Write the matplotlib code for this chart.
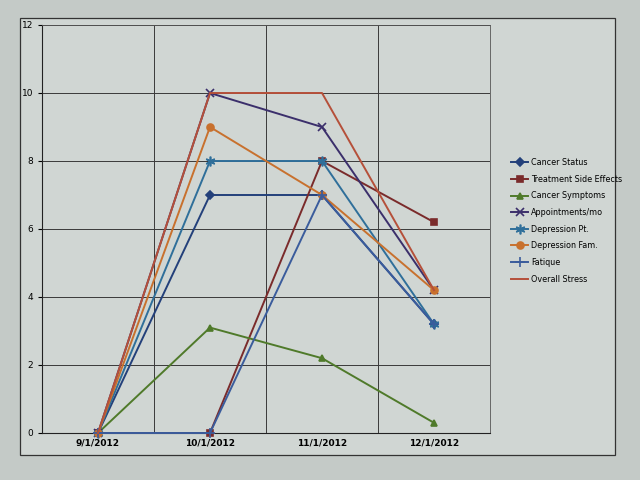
import numpy as np
import matplotlib
matplotlib.use('Agg')
import matplotlib.pyplot as plt
from matplotlib.patches import Rectangle

dates = ['9/1/2012', '10/1/2012', '11/1/2012', '12/1/2012']
cancer_status = [0, 7, 7, 3.2]
treatment_side_effects = [0, 0, 8, 6.2]
cancer_symptoms = [0, 3.1, 2.2, 0.3]
appointments = [0, 10, 9, 4.2]
depression_pt = [0, 8, 8, 3.2]
depression_fam = [0, 9, 7, 4.2]
fatigue = [0, 0, 7, 3.2]
overall_stress = [0, 10, 10, 4.2]

series = [
    ('Cancer Status', cancer_status, '#23407a', 'D', 4),
    ('Treatment Side Effects', treatment_side_effects, '#7a2b2b', 's', 5),
    ('Cancer Symptoms', cancer_symptoms, '#4f7a2a', '^', 5),
    ('Appointments/mo', appointments, '#3b2f6b', 'x', 6),
    ('Depression Pt.', depression_pt, '#2f6f9a', (6, 2, 0), 7),
    ('Depression Fam.', depression_fam, '#c8712e', 'o', 5),
    ('Fatique', fatigue, '#3a5c9c', '+', 7),
    ('Overall Stress', overall_stress, '#b5503a', None, 0),
]

bg = '#d0d6d3'
fig = plt.figure(figsize=(6.4, 4.8), dpi=100)
fig.patch.set_facecolor('#c4cac7')

# chart area border like the printed sheet
back = fig.add_axes([0, 0, 1, 1], zorder=-5)
back.axis('off')
back.set_xlim(0, 640)
back.set_ylim(480, 0)
back.add_patch(Rectangle((20, 18), 595, 437, facecolor=bg,
                         edgecolor='#333333', linewidth=0.9))

ax = fig.add_axes([42 / 640, 1 - 433 / 480, 448 / 640, 408 / 480])
ax.set_facecolor(bg)
x = np.arange(len(dates))
for name, vals, col, mk, ms in series:
    ax.plot(x, vals, color=col, marker=mk, markersize=ms, linewidth=1.4,
            markeredgewidth=1.2, label=name, zorder=3, clip_on=False)

ax.set_xlim(-0.5, 3.5)
ax.set_ylim(0, 12)
ax.set_yticks(range(0, 13, 2))
ax.set_xticks(x)
ax.set_xticklabels(dates, fontsize=6.5, fontweight='bold')
ax.tick_params(axis='y', labelsize=6.5, length=3)
ax.tick_params(axis='x', length=0, pad=4)
ax.set_xticks([0.5, 1.5, 2.5], minor=True)
ax.tick_params(axis='x', which='minor', length=0)
ax.grid(axis='y', color='#3a3a3a', linewidth=0.7)
ax.grid(axis='x', which='minor', color='#3a3a3a', linewidth=0.7)
ax.set_axisbelow(True)
for s in ['top', 'right']:
    ax.spines[s].set_color('#555555')
    ax.spines[s].set_linewidth(0.6)
for s in ['left', 'bottom']:
    ax.spines[s].set_color('#222222')

ax.legend(loc='center left', bbox_to_anchor=(1.03, 0.52), frameon=False,
          fontsize=5.8, handlelength=2.2, labelspacing=0.95, handletextpad=0.3)

fig.savefig('out.png', dpi=100, facecolor=fig.get_facecolor())
